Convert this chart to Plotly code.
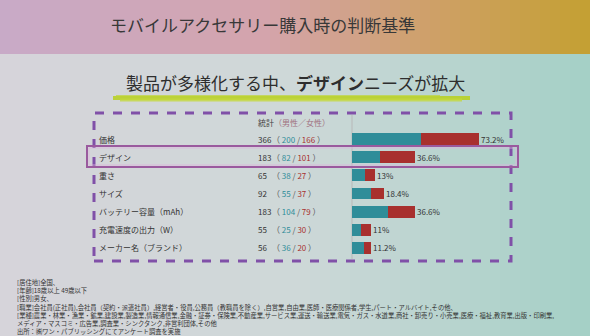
import plotly.graph_objects as go

# ---- data ----
categories = ["価格", "デザイン", "重さ", "サイズ", "バッテリー容量（mAh）", "充電速度の出力（W）", "メーカー名（ブランド）"]
totals = [366, 183, 65, 92, 183, 55, 56]
male = [200, 82, 38, 55, 104, 25, 36]
female = [166, 101, 27, 37, 79, 30, 20]
respondents = 500

title_text = "モバイルアクセサリー購入時の判断基準"
subtitle_text = "製品が多様化する中、<b>デザイン</b>ニーズが拡大"
header_total = "統計"
header_split = "（男性／女性）"
footnotes = [
    "[居住地]全国、",
    "[年齢]18歳以上 49歳以下",
    "[性別]男女、",
    "[職業]会社員(正社員),会社員（契約・派遣社員）,経営者・役員,公務員（教職員を除く）,自営業,自由業,医師・医療関係者,学生,パート・アルバイト,その他、",
    "[業種]農業・林業・漁業・鉱業,建設業,製造業,情報通信業,金融・証券・保険業,不動産業,サービス業,運送・輸送業,電気・ガス・水道業,商社・卸売り・小売業,医療・福祉,教育業,出版・印刷業,",
    "メディア・マスコミ・広告業,調査業・シンクタンク,非営利団体,その他",
    "出所：㈱ワン・パブリッシングにてアンケート調査を実施",
]

W, H = 590, 336
FONT = "Noto Sans CJK JP"
TEAL = "#2f8d99"
RED = "#a8302e"

male_pct = [m / respondents * 100 for m in male]
female_pct = [f / respondents * 100 for f in female]
total_pct = [t / respondents * 100 for t in totals]

def px(x):
    return x / W

def py(y):
    return 1 - y / H

def lerp(c1, c2, t):
    return "rgb(%d,%d,%d)" % tuple(round(a + (b - a) * t) for a, b in zip(c1, c2))

def multi(stops, t):
    for i in range(len(stops) - 1):
        t0, c0 = stops[i]
        t1, c1 = stops[i + 1]
        if t <= t1:
            return lerp(c0, c1, (t - t0) / (t1 - t0))
    return lerp(stops[-1][1], stops[-1][1], 0)

shapes = []
N = 59
for i in range(N):
    x0, x1 = i * 10, (i + 1) * 10 + 1
    t = (i + 0.5) / N
    top = multi([(0, (200, 170, 200)), (0.45, (212, 164, 172)), (0.75, (206, 160, 100)), (1, (196, 160, 50))], t)
    bot = multi([(0, (214, 212, 218)), (0.5, (206, 216, 216)), (1, (164, 208, 198))], t)
    shapes.append(dict(type="rect", xref="paper", yref="paper", x0=px(x0), x1=px(x1), y0=py(54), y1=py(0),
                       fillcolor=top, line=dict(width=0), layer="below"))
    shapes.append(dict(type="rect", xref="paper", yref="paper", x0=px(x0), x1=px(x1), y0=py(H), y1=py(54),
                       fillcolor=bot, line=dict(width=0), layer="below"))

# brush underline
for (x0, x1, y, w, c) in [(113, 470, 98, 4, "rgba(184,208,40,0.9)"), (120, 462, 100, 3, "rgba(196,216,60,0.8)"),
                           (116, 440, 96, 2, "rgba(190,212,50,0.7)")]:
    shapes.append(dict(type="line", xref="paper", yref="paper", x0=px(x0), x1=px(x1), y0=py(y), y1=py(y),
                       line=dict(color=c, width=w), layer="below"))

# dashed frame, axis line, highlight box
shapes.append(dict(type="rect", xref="paper", yref="paper", x0=px(94), x1=px(511), y0=py(261), y1=py(113),
                   line=dict(color="#8050a8", width=3, dash="dash"), layer="below"))
shapes.append(dict(type="line", xref="paper", yref="paper", x0=px(352), x1=px(352), y0=py(259), y1=py(115),
                   line=dict(color="#b8b8b8", width=1), layer="below"))
shapes.append(dict(type="rect", xref="paper", yref="paper", x0=px(87), x1=px(518), y0=py(167), y1=py(146),
                   line=dict(color="#9a5a9e", width=2)))
shapes.append(dict(type="rect", xref="paper", yref="paper", x0=px(89), x1=px(516), y0=py(165), y1=py(148),
                   line=dict(color="rgba(220,180,220,0.8)", width=1)))

fig = go.Figure()
fig.add_trace(go.Bar(y=categories, x=male_pct, orientation="h", marker=dict(color=TEAL, line=dict(width=0)),
                     width=0.66, showlegend=False, hoverinfo="skip"))
fig.add_trace(go.Bar(y=categories, x=female_pct, orientation="h", marker=dict(color=RED, line=dict(width=0)),
                     width=0.66, showlegend=False, hoverinfo="skip"))

ann = []
ann.append(dict(text=title_text, x=px(262), y=py(25), xref="paper", yref="paper", yanchor="middle", showarrow=False,
                font=dict(family=FONT, size=17, color="#383838")))
ann.append(dict(text=subtitle_text, x=px(295), y=py(82), xref="paper", yref="paper", yanchor="middle", showarrow=False,
                font=dict(family=FONT, size=17, color="#2e2e2e")))
ann.append(dict(text=header_total, x=px(256), y=py(122), xref="paper", yref="paper", xanchor="left",
                yanchor="middle", showarrow=False, font=dict(family=FONT, size=8, color="#444")))
ann.append(dict(text=header_split, x=px(272), y=py(122), xref="paper", yref="paper", xanchor="left",
                yanchor="middle", showarrow=False, font=dict(family=FONT, size=8, color="#a07080")))
for c, t, m, f, p in zip(categories, totals, male, female, total_pct):
    ann.append(dict(text=c, x=px(97), y=c, xref="paper", yref="y", xanchor="left", showarrow=False,
                    font=dict(family=FONT, size=8, color="#333")))
    ann.append(dict(text=str(t), x=px(256), y=c, xref="paper", yref="y", xanchor="left", showarrow=False,
                    font=dict(family=FONT, size=8, color="#333")))
    ann.append(dict(text="（ <span style='color:%s'>%d</span> / <span style='color:%s'>%d</span> ）" % (TEAL, m, RED, f),
                    x=px(270), y=c, xref="paper", yref="y", xanchor="left", showarrow=False,
                    font=dict(family=FONT, size=8, color="#555")))
    ann.append(dict(text="%g%%" % round(p, 1), x=p, y=c, xref="x", yref="y", xanchor="left", xshift=0,
                    showarrow=False, font=dict(family=FONT, size=8, color="#333")))
ann.append(dict(text="<br>".join(footnotes), x=px(15), y=py(276), xref="paper", yref="paper", xanchor="left",
                yanchor="top", align="left", showarrow=False, font=dict(family=FONT, size=6.3, color="#333")))

fig.update_layout(
    width=W, height=H, margin=dict(l=0, r=0, t=0, b=0),
    paper_bgcolor="#d6d6da", plot_bgcolor="rgba(0,0,0,0)",
    barmode="stack", bargap=0.3,
    xaxis=dict(domain=[px(352), px(508)], range=[0, 90], visible=False),
    yaxis=dict(domain=[py(257), py(130)], type="category", categoryarray=categories,
               range=[len(categories) - 0.5, -0.5], visible=False),
    shapes=shapes, annotations=ann,
)
fig.write_html("out.html")
